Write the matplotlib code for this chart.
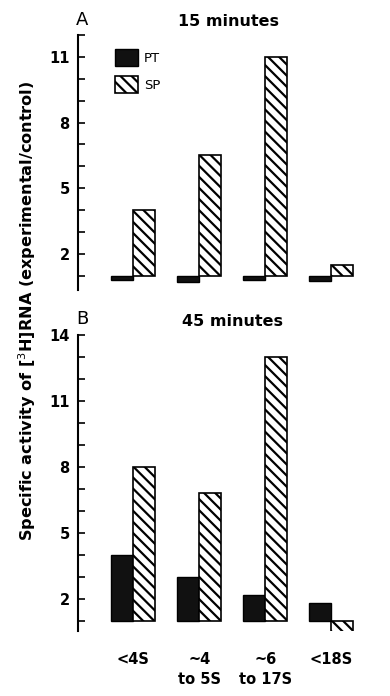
import numpy as np
import matplotlib.pyplot as plt

# data (ratio experimental/control, bars start at 1)
groups = ['<4S', '~4\nto 5S', '~6\nto 17S', '<18S']
pt_15 = [0.82, 0.70, 0.82, 0.78]
sp_15 = [4.0, 6.5, 11.0, 1.5]
pt_45 = [4.0, 3.0, 2.2, 1.8]
sp_45 = [8.0, 6.8, 13.0, 0.05]
yticks = [2, 5, 8, 11, 14]

plt.rcParams['font.family'] = 'DejaVu Sans'
plt.rcParams['hatch.linewidth'] = 1.6

fig = plt.figure(figsize=(3.9, 6.96), dpi=100)
W, H = 390, 696


def px_axes(left, top, right, bottom):
    return fig.add_axes([left / W, 1 - bottom / H, (right - left) / W, (bottom - top) / H])


axA = px_axes(78, 35, 372, 290)
axB = px_axes(78, 335, 372, 631)

x = np.arange(len(groups))
w = 1 / 3


def draw(ax, pt, sp, ylim):
    pt = np.array(pt)
    sp = np.array(sp)
    ax.bar(x - w / 2, pt - 1, w, bottom=1, color='#111111', edgecolor='black',
           linewidth=1, label='PT')
    ax.bar(x + w / 2, sp - 1, w, bottom=1, color='white', edgecolor='black',
           linewidth=1.2, hatch='\\\\\\', label='SP')
    ax.set_xlim(-0.838, 3.62)
    ax.set_ylim(*ylim)
    for s in ['top', 'right', 'bottom']:
        ax.spines[s].set_visible(False)
    ax.spines['left'].set_linewidth(1.5)
    ax.set_yticks(np.arange(1, int(ylim[1]) + 1), minor=True)
    ax.set_yticks([t for t in yticks if t <= ylim[1]])
    ax.tick_params(axis='y', which='both', direction='in', length=5, width=1.2)
    ax.tick_params(axis='y', which='major', labelsize=10.5, pad=6)
    for lab in ax.get_yticklabels():
        lab.set_fontweight('bold')


draw(axA, pt_15, sp_15, (0.35, 12))
draw(axB, pt_45, sp_45, (0.55, 14))

axA.set_xticks([])
axB.set_xticks(x)
axB.set_xticklabels(groups, fontsize=10.5, fontweight='bold', linespacing=1.4)
axB.tick_params(axis='x', length=0, pad=15)

leg = axA.legend(loc='upper left', bbox_to_anchor=(0.085, 0.99), frameon=False,
                 handlelength=1.75, handleheight=1.6, fontsize=9.5, labelspacing=0.75,
                 handletextpad=0.45)

fig.text(76 / W, 1 - 20 / H, 'A', fontsize=13, va='center', ha='left')
fig.text(229 / W, 1 - 21 / H, '15 minutes', fontsize=11.5, fontweight='bold',
         va='center', ha='center')
fig.text(76 / W, 1 - 319 / H, 'B', fontsize=13, va='center', ha='left')
fig.text(232 / W, 1 - 322 / H, '45 minutes', fontsize=11.5, fontweight='bold',
         va='center', ha='center')
fig.text(27 / W, 1 - 311 / H,
         'Specific activity of [$^3$H]RNA (experimental/control)',
         rotation=90, fontsize=11.6, fontweight='bold', va='center', ha='center')

fig.savefig('out.png', dpi=100)
